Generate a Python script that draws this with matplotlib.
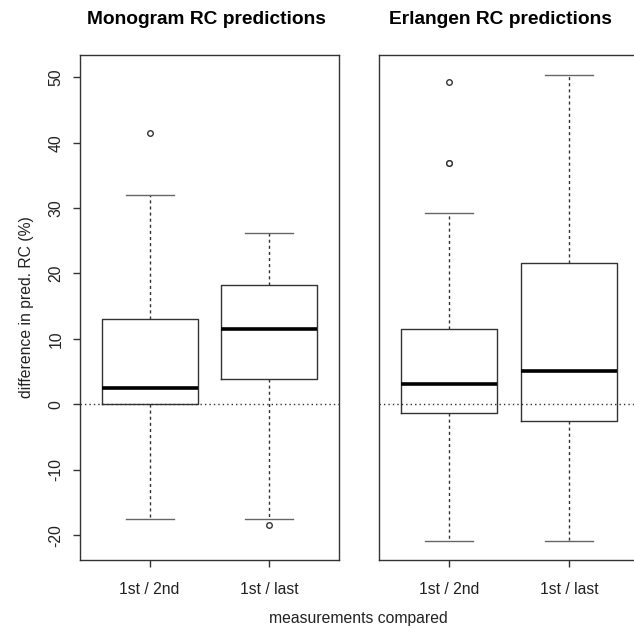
import matplotlib
matplotlib.use('Agg')
import matplotlib.pyplot as plt

plt.rcParams['font.family'] = ['Liberation Sans', 'DejaVu Sans']

labels = ['1st / 2nd', '1st / last']

# Monogram panel
mono_whislo = [-17.6, -17.6]
mono_q1 = [0.0, 3.9]
mono_med = [2.5, 11.5]
mono_q3 = [13.1, 18.3]
mono_whishi = [32.0, 26.2]
mono_fliers = [[41.5], [-18.4]]

# Erlangen panel
erl_whislo = [-20.9, -20.9]
erl_q1 = [-1.4, -2.6]
erl_med = [3.1, 5.1]
erl_q3 = [11.5, 21.6]
erl_whishi = [29.3, 50.4]
erl_fliers = [[36.9, 36.9, 49.3], []]

ylim = (-23.8, 53.4)


def make_stats(lo, q1, med, q3, hi, fl):
    out = []
    for i in range(len(labels)):
        out.append(dict(label=labels[i], whislo=lo[i], q1=q1[i], med=med[i],
                        q3=q3[i], whishi=hi[i], fliers=fl[i]))
    return out


box_kw = dict(
    positions=[1, 2], widths=0.8, showfliers=True,
    boxprops=dict(color='#333333', linewidth=1.0),
    medianprops=dict(color='black', linewidth=2.6, solid_capstyle='butt'),
    whiskerprops=dict(color='#333333', linewidth=1.0, linestyle=(0, (2.2, 2.2))),
    capprops=dict(color='#666666', linewidth=1.0),
    capwidths=0.4,
    flierprops=dict(marker='o', markersize=4, markerfacecolor='white',
                    markeredgecolor='#333333', markeredgewidth=1.0),
)

fig = plt.figure(figsize=(6.34, 6.28), dpi=100)
W, H = 634.0, 628.0
ax1 = fig.add_axes([80 / W, (H - 560) / H, 259 / W, 505 / H])
ax2 = fig.add_axes([379 / W, (H - 560) / H, 260 / W, 505 / H])

for ax, st in [
    (ax1, make_stats(mono_whislo, mono_q1, mono_med, mono_q3, mono_whishi, mono_fliers)),
    (ax2, make_stats(erl_whislo, erl_q1, erl_med, erl_q3, erl_whishi, erl_fliers)),
]:
    ax.axhline(0, color='#333333', linewidth=1.0, linestyle=(0, (1, 2.2)), zorder=0)
    ax.bxp(st, **box_kw)
    ax.set_xlim(0.42, 2.58)
    ax.set_ylim(*ylim)
    for s in ax.spines.values():
        s.set_color('#333333')
        s.set_linewidth(1.0)
    ax.tick_params(axis='x', length=5, width=1.0, color='#333333',
                   labelsize=11.3, labelcolor='#222222', pad=11)

ax1.set_yticks([-20, -10, 0, 10, 20, 30, 40, 50])
ax1.set_yticklabels(['-20', '-10', '0', '10', '20', '30', '40', '50'],
                    rotation=90, va='center')
ax1.tick_params(axis='y', length=5, width=1.0, color='#333333',
                labelsize=11.3, labelcolor='#222222', pad=7)
ax1.set_ylabel('difference in pred. RC (%)', fontsize=11.3, color='#222222', labelpad=10)
ax2.set_yticks([])

fig.text(206 / W, 1 - 20 / H, 'Monogram RC predictions', ha='center', va='center',
         fontsize=13.8, fontweight='bold')
fig.text(500 / W, 1 - 20 / H, 'Erlangen RC predictions', ha='center', va='center',
         fontsize=13.8, fontweight='bold')
fig.text(358 / W, 1 - 618 / H, 'measurements compared', ha='center', va='center',
         fontsize=11.3, color='#222222')

fig.savefig('out.png', dpi=100)
